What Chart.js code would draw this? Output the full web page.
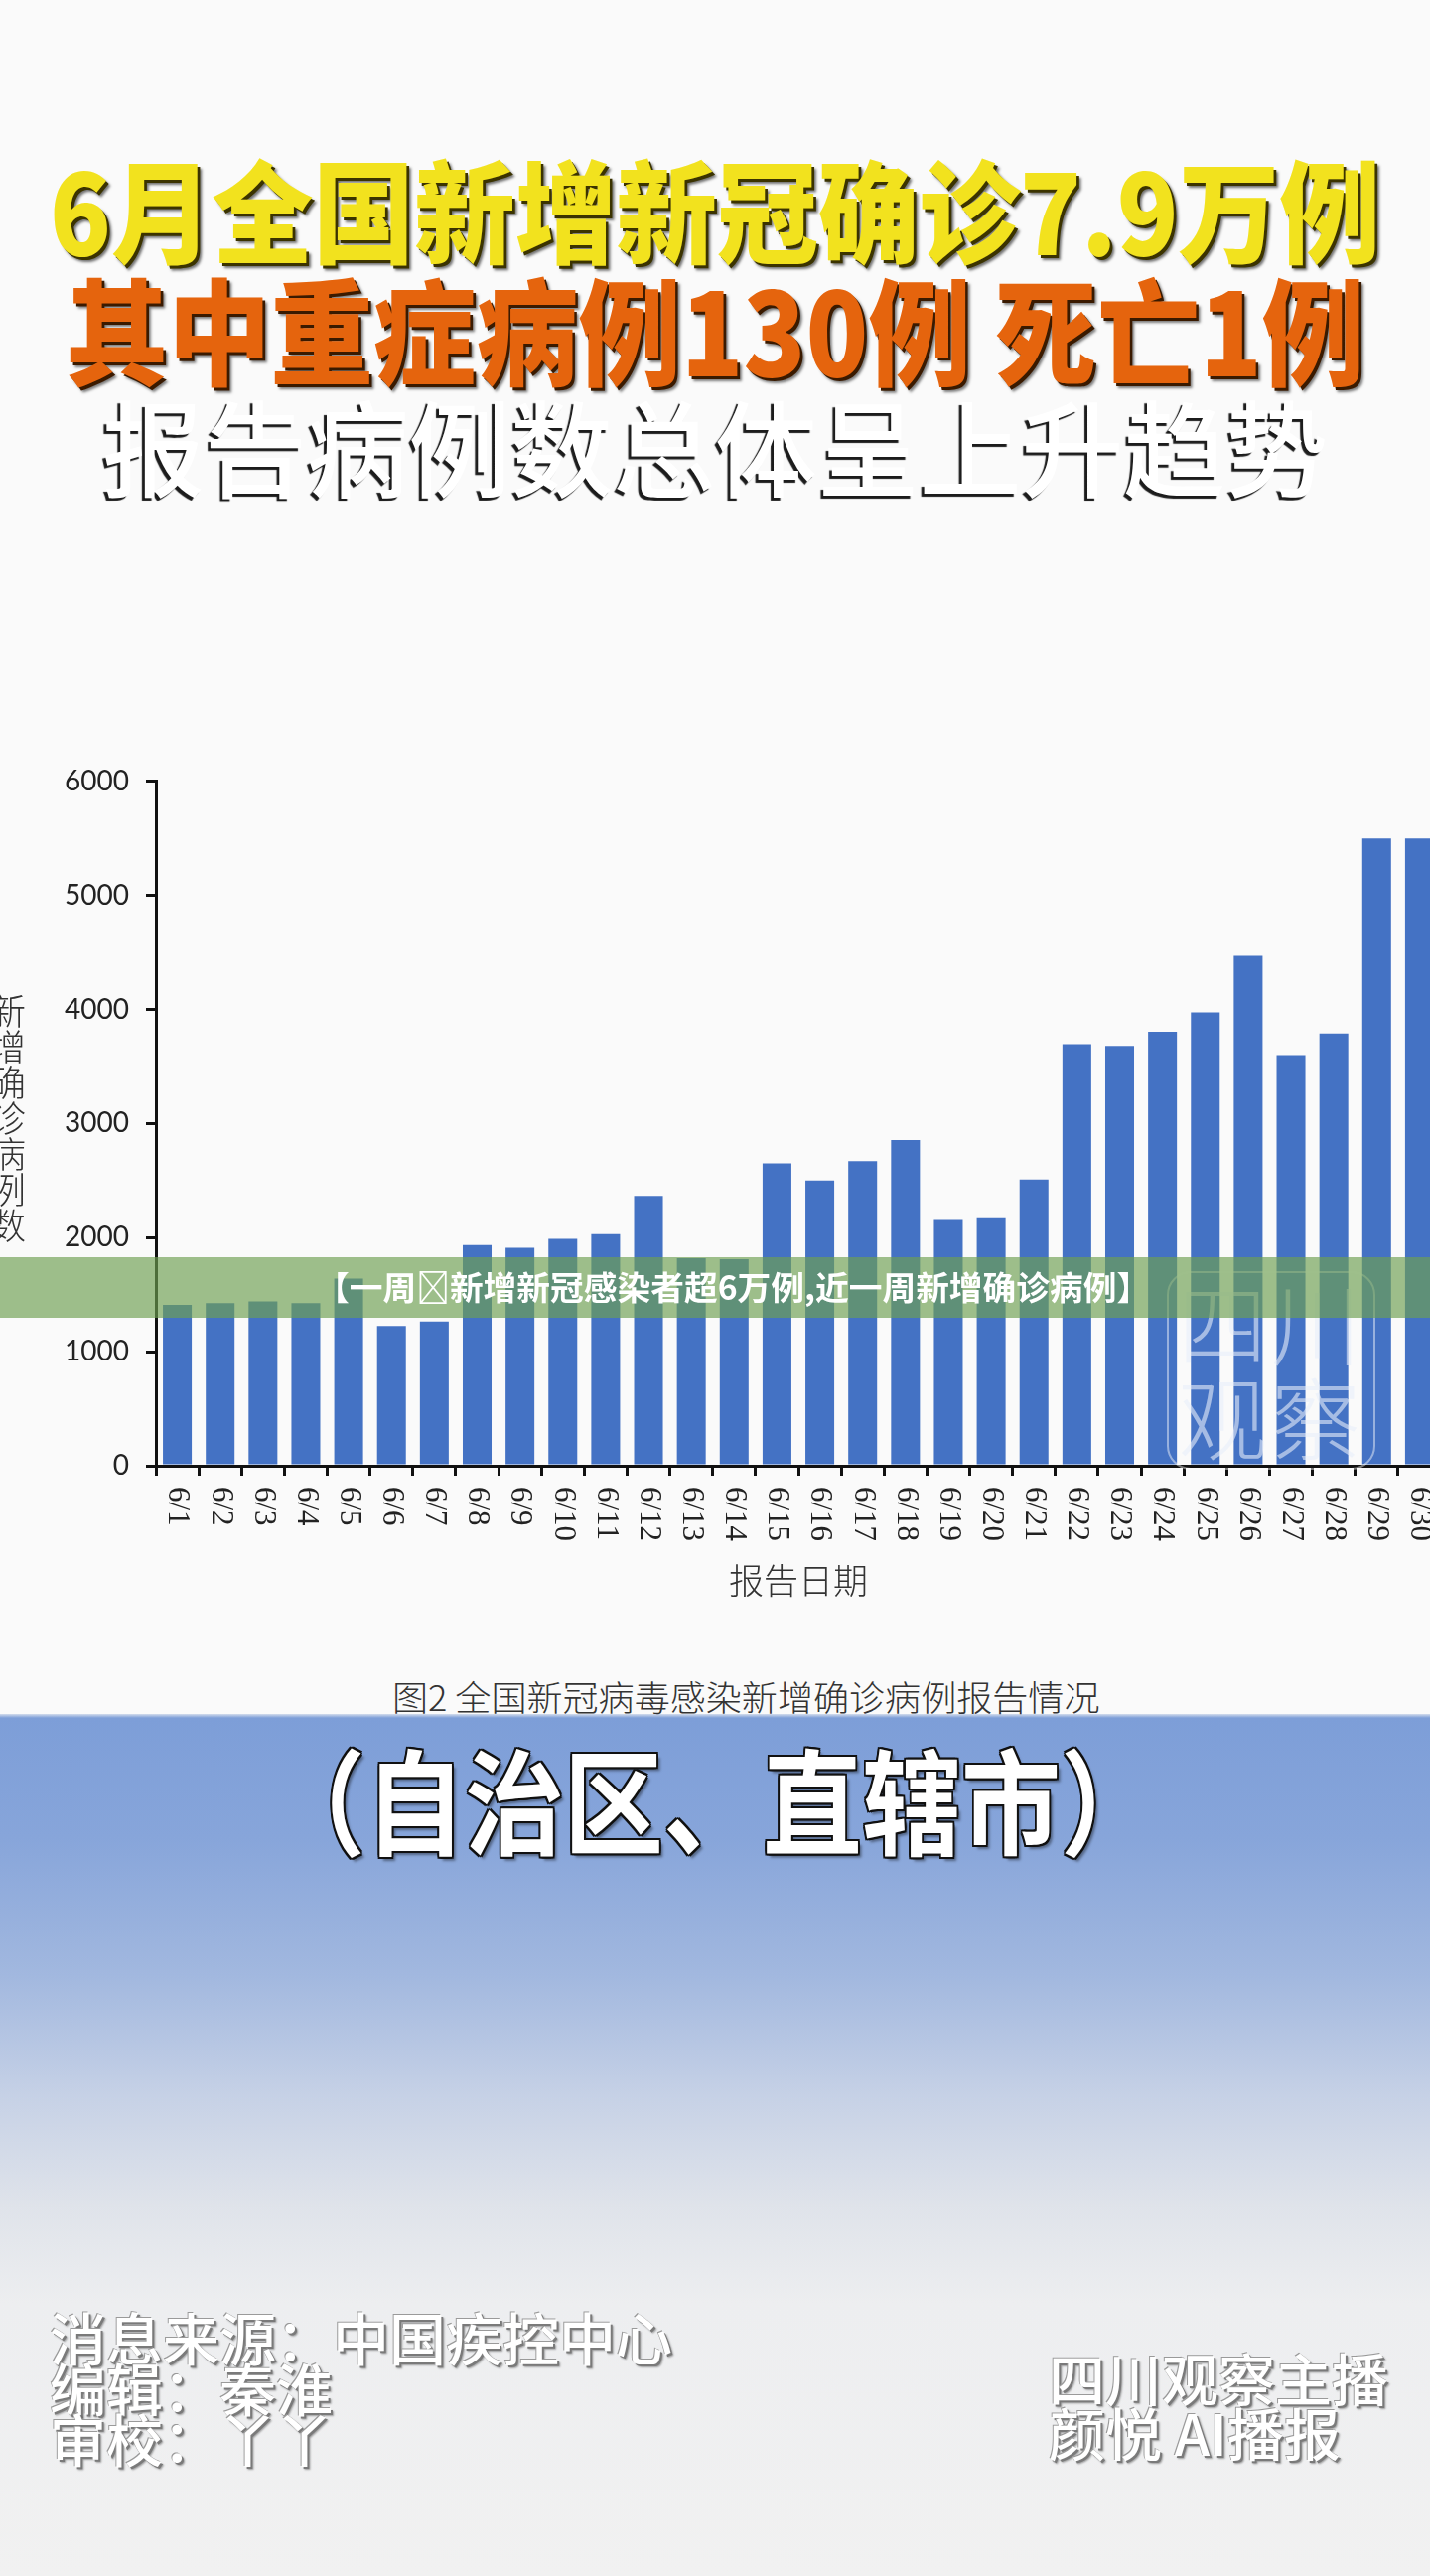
<!DOCTYPE html>
<html lang="zh-CN">
<head>
<meta charset="utf-8">
<title>6月全国新增新冠确诊7.9万例</title>
<script src="https://cdn.jsdelivr.net/npm/chart.js@4.4.1/dist/chart.umd.min.js"></script>
<style>
  html, body { margin: 0; padding: 0; }
  body {
    width: 1440px; height: 2594px; overflow: hidden; position: relative;
    background: linear-gradient(to bottom,
      #fafafa 0px, #fafafa 1726px, #d3dcec 1726px, #7d9ed8 1730px,
      #87a5da 1850px, #a2b8df 1990px, #c6d1e6 2110px, #dfe3ea 2220px,
      #edeef0 2320px, #f1f1f1 2594px);
    font-family: "Noto Sans CJK SC", sans-serif;
  }
  .t { position: absolute; white-space: nowrap; line-height: 1; transform-origin: 0 0; }
  #t1 { left: 50px; top: 152px; font-size: 112px; font-weight: 900; color: #f2e21e;
        text-shadow: 3px 3px 0 #3b3300, 5px 5px 3px rgba(0,0,0,0.55); }
  #t2 { left: 66px; top: 270px; font-size: 116px; font-weight: 900; color: #e5640d;
        text-shadow: 3px 3px 0 #3a1a00, 5px 5px 3px rgba(0,0,0,0.5); }
  #t3 { left: 103px; top: 394px; font-size: 105px; font-weight: 500; color: #ffffff;
        text-shadow: -3px 3px 1px #1c1c1c; }
  #chartBox { position: absolute; left: 0; top: 753px; width: 1460px; height: 885px; }
  #ytitle { position: absolute; left: -10px; top: 1000px; font-size: 36px; line-height: 1;
            writing-mode: vertical-rl; text-orientation: upright; color: #333; font-weight: 300; }
  #caption { left: 395px; top: 1690px; font-size: 35px; font-weight: 300; color: #333; }
  #mark { position: absolute; left: 1175px; top: 1280px; width: 206px; height: 196px;
          border: 2px solid rgba(255,255,255,0.45); border-radius: 24px;
          color: rgba(232,238,250,0.6); font-size: 90px; font-weight: 300; line-height: 95px;
          text-align: center; letter-spacing: 4px; }
  #banner { position: absolute; left: 0; top: 1266px; width: 1440px; height: 61px;
            background: rgba(110,160,80,0.66); }
  #bannerText { left: 318px; top: 1279px; font-size: 33px; font-weight: 700; color: #fff; }
  #region { left: 268px; top: 1752px; font-size: 115px; font-weight: 700; color: #fff;
            text-shadow: 2px 0 0 #111, -2px 0 0 #111, 0 2px 0 #111, 0 -2px 0 #111,
                         2px 2px 0 #111, -2px -2px 0 #111, 2px -2px 0 #111, -2px 2px 0 #111,
                         4px 4px 3px rgba(0,0,0,0.4); }
  .foot { position: absolute; white-space: nowrap; font-size: 57px; line-height: 51px; color: #fff;
          font-weight: 500;
          text-shadow: -1px -1px 0 #9a9a9a, 2px 2px 0 #7a7a7a, 3px 3px 2px rgba(0,0,0,0.35); }
  #footL { left: 50px; top: 2327px; }
  #footR { left: 1056px; top: 2366px; line-height: 55px; }
</style>
</head>
<body>
<div class="t fit" id="t1" data-w="1340">6月全国新增新冠确诊7.9万例</div>
<div class="t fit" id="t2" data-w="1308">其中重症病例130例 死亡1例</div>
<div class="t fit" id="t3" data-w="1234">报告病例数总体呈上升趋势</div>

<div id="chartBox"><canvas id="cases"></canvas></div>
<div id="ytitle">新增确诊病例数</div>
<div class="t fit" id="caption" data-w="712">图2 全国新冠病毒感染新增确诊病例报告情况</div>

<div id="mark">四川<br>观察</div>
<div id="banner"></div>
<div class="t fit" id="bannerText" data-w="840">【一周&#xE000;新增新冠感染者超6万例,近一周新增确诊病例】</div>

<div class="t fit" id="region" data-w="900">（自治区、直辖市）</div>

<div class="foot" id="footL">消息来源：中国疾控中心<br>编辑：秦淮<br>审校：丫丫</div>
<div class="foot" id="footR">四川观察主播<br>颜悦 AI播报</div>

<script>
const dates = ['6/1', '6/2', '6/3', '6/4', '6/5', '6/6', '6/7', '6/8', '6/9', '6/10',
    '6/11', '6/12', '6/13', '6/14', '6/15', '6/16', '6/17', '6/18', '6/19', '6/20',
    '6/21', '6/22', '6/23', '6/24', '6/25', '6/26', '6/27', '6/28', '6/29', '6/30'];
const newCases = [1410, 1425, 1440, 1425, 1640, 1225, 1265, 1935, 1910, 1990,
    2030, 2365, 1820, 1810, 2650, 2500, 2670, 2855, 2155, 2170,
    2510, 3695, 3680, 3805, 3975, 4470, 3600, 3790, 5500, 5500];
const yTickValues = [0, 1000, 2000, 3000, 4000, 5000, 6000];

// x tick labels read top to bottom (rotated clockwise), which chart.js does not do itself
const dateLabels = {
    id: 'dateLabels',
    afterDraw(chart) {
        const scale = chart.scales.x;
        const ctx = chart.ctx;
        ctx.save();
        ctx.fillStyle = '#222';
        ctx.font = '31px "Liberation Serif"';
        ctx.textAlign = 'left';
        ctx.textBaseline = 'middle';
        scale.ticks.forEach((tick, i) => {
            ctx.save();
            ctx.translate(scale.getPixelForTick(i), scale.top + 21);
            ctx.rotate(Math.PI / 2);
            ctx.fillText(chart.data.labels[i], 0, 0);
            ctx.restore();
        });
        ctx.restore();
    }
};

function fitText() {
    document.querySelectorAll('.fit').forEach(el => {
        el.style.transform = 'scaleX(' + (el.dataset.w / el.offsetWidth) + ')';
    });
}

function drawChart() {
    new Chart(document.getElementById('cases'), {
        type: 'bar',
        data: {
            labels: dates,
            datasets: [{
                label: '新增确诊病例数',
                data: newCases,
                backgroundColor: '#4472c4',
                barPercentage: 0.673,
                categoryPercentage: 1.0
            }]
        },
        options: {
            responsive: true,
            maintainAspectRatio: false,
            animation: false,
            layout: { padding: { top: 16, left: 0, right: 9, bottom: 0 } },
            plugins: { legend: { display: false }, tooltip: { enabled: false } },
            scales: {
                x: {
                    offset: true,
                    afterFit: s => { s.height = 162; },
                    border: { display: true, color: '#111', width: 3 },
                    grid: { offset: true, drawOnChartArea: false, drawTicks: true,
                            tickLength: 10, color: '#111', lineWidth: 3 },
                    ticks: { display: false },
                    title: {
                        display: true, text: '报告日期', color: '#333',
                        font: { family: 'Noto Sans CJK SC', size: 35, weight: '300' },
                        padding: { top: 0, bottom: 25 }
                    }
                },
                y: {
                    min: 0,
                    max: 6000,
                    afterBuildTicks: s => { s.ticks = yTickValues.map(v => ({ value: v })); },
                    afterFit: s => { s.width = 157; },
                    border: { display: true, color: '#111', width: 3 },
                    grid: { drawOnChartArea: false, drawTicks: true, tickLength: 10,
                            color: '#111', lineWidth: 3 },
                    ticks: {
                        padding: 17, color: '#222', font: { family: 'Lato', size: 28 },
                        callback: v => String(v)
                    }
                }
            }
        },
        plugins: [dateLabels]
    });
}

document.fonts.ready.then(() => {
    fitText();
    drawChart();
});
</script>
</body>
</html>
